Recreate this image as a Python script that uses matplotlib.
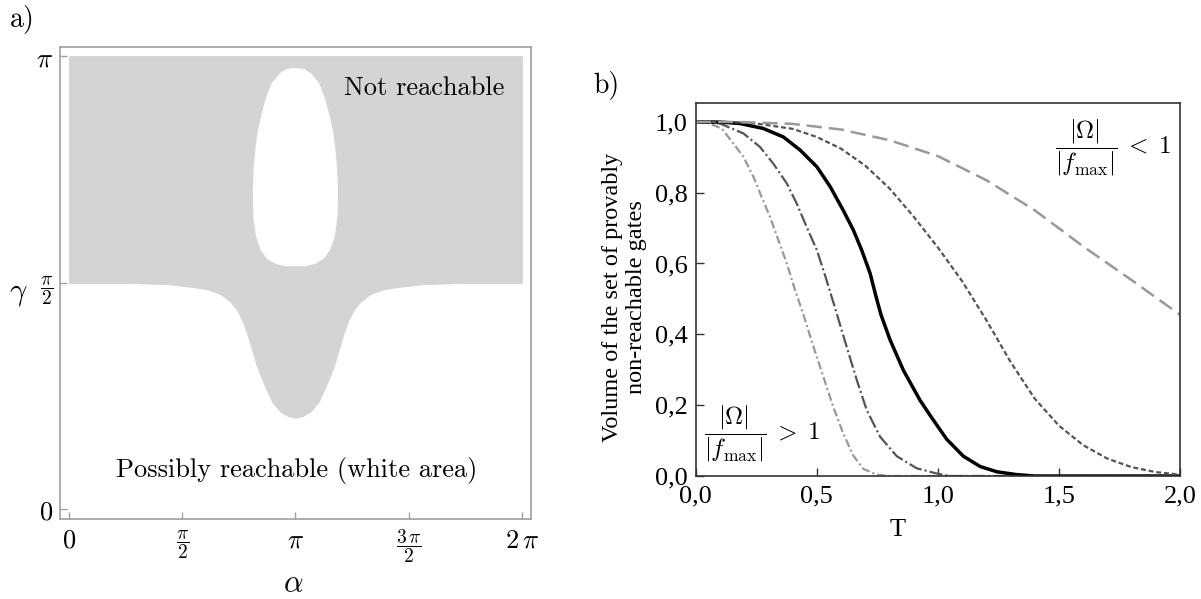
import numpy as np
import matplotlib
matplotlib.use('Agg')
import matplotlib.pyplot as plt

plt.rcParams['mathtext.fontset'] = 'cm'
plt.rcParams['lines.scale_dashes'] = False

# --- panel a: reachable set boundaries ---
# white blob inside the upper grey block: half width around alpha = pi vs gamma
blob_hw = [0.0, 0.116, 0.208, 0.324, 0.412, 0.472, 0.523, 0.551, 0.573, 0.587,
           0.579, 0.541, 0.476, 0.393, 0.278, 0.139, 0.0]
blob_gamma = [3.060, 3.053, 3.025, 2.956, 2.840, 2.724, 2.609, 2.493, 2.377, 2.216,
              2.030, 1.892, 1.800, 1.742, 1.707, 1.689, 1.689]
# grey dip below gamma = pi/2: half width around alpha = pi vs gamma
dip_hw = [2.3, 1.75, 1.457, 1.226, 1.041, 0.902, 0.810, 0.740, 0.671, 0.601,
          0.532, 0.440, 0.324, 0.208, 0.10, 0.0]
dip_gamma = [1.5708, 1.562, 1.545, 1.527, 1.494, 1.441, 1.383, 1.314, 1.222, 1.106,
             0.990, 0.875, 0.748, 0.678, 0.647, 0.637]

alpha_ticks = [0, np.pi / 2, np.pi, 3 * np.pi / 2, 2 * np.pi]
alpha_labels = [r'$0$', r'$\genfrac{}{}{0.8}{0}{\pi}{2}$', r'$\pi$',
                r'$\genfrac{}{}{0.8}{0}{3\,\pi}{2}$', r'$2\,\pi$']
gamma_ticks = [0, np.pi / 2, np.pi]
gamma_labels = [r'$0$', r'$\genfrac{}{}{0.8}{0}{\pi}{2}$', r'$\pi$']

# --- panel b: volume of non-reachable set vs T ---
T1 = [0, 0.05, 0.107, 0.155, 0.197, 0.238, 0.272, 0.307, 0.341, 0.376, 0.41, 0.444,
      0.486, 0.527, 0.568, 0.609, 0.651, 0.692, 0.747, 0.8, 2.0]
V1 = [1, 0.997, 0.981, 0.939, 0.901, 0.845, 0.788, 0.731, 0.666, 0.600, 0.525, 0.457,
      0.365, 0.280, 0.195, 0.120, 0.057, 0.020, 0.004, 0.0, 0.0]
T2 = [0, 0.1, 0.197, 0.265, 0.320, 0.376, 0.417, 0.458, 0.500, 0.537, 0.582, 0.623,
      0.665, 0.706, 0.761, 0.830, 0.912, 0.995, 1.05, 2.0]
V2 = [1, 0.995, 0.967, 0.929, 0.882, 0.826, 0.769, 0.703, 0.638, 0.56, 0.459, 0.365,
      0.271, 0.186, 0.111, 0.056, 0.022, 0.007, 0.0, 0.0]
T3 = [0, 0.1, 0.183, 0.279, 0.362, 0.431, 0.500, 0.555, 0.609, 0.651, 0.685, 0.720,
      0.745, 0.765, 0.802, 0.857, 0.926, 0.967, 1.036, 1.105, 1.174, 1.243, 1.325,
      1.4, 2.0]
V3 = [1, 0.999, 0.995, 0.981, 0.957, 0.920, 0.873, 0.817, 0.750, 0.694, 0.638, 0.572,
      0.505, 0.455, 0.385, 0.299, 0.214, 0.172, 0.104, 0.056, 0.027, 0.012, 0.004,
      0.0, 0.0]
T4 = [0, 0.15, 0.25, 0.4, 0.5, 0.6, 0.7, 0.8, 0.9, 1.0, 1.1, 1.2, 1.3, 1.4, 1.5, 1.6,
      1.7, 1.8, 1.9, 2.0]
V4 = [1, 0.999, 0.995, 0.980, 0.957, 0.924, 0.876, 0.812, 0.732, 0.645, 0.550, 0.440,
      0.322, 0.218, 0.142, 0.087, 0.049, 0.025, 0.011, 0.004]
T5 = [0, 0.2, 0.4, 0.6, 0.8, 1.0, 1.2, 1.4, 1.6, 1.8, 2.0]
V5 = [1, 0.999, 0.994, 0.978, 0.948, 0.903, 0.835, 0.750, 0.648, 0.553, 0.455]

T_ticks = [0, 0.5, 1.0, 1.5, 2.0]
T_labels = ['0,0', '0,5', '1,0', '1,5', '2,0']
V_ticks = [0, 0.2, 0.4, 0.6, 0.8, 1.0]
V_labels = ['0,0', '0,2', '0,4', '0,6', '0,8', '1,0']

grey = '#d4d4d4'
fig = plt.figure(figsize=(12.01, 5.99), dpi=100)

# %% panel a
ax1 = fig.add_axes([0.04996, 0.1336, 0.3922, 0.7875])
ax1.fill_between([0, 2 * np.pi], np.pi / 2, np.pi, color=grey, lw=0.6, edgecolor=grey)
hw = np.array(blob_hw)
g = np.array(blob_gamma)
ax1.fill(np.concatenate([np.pi + hw, (np.pi - hw)[::-1]]),
         np.concatenate([g, g[::-1]]), color='white', lw=0.5, edgecolor='white')
dhw = np.array(dip_hw)
dg = np.array(dip_gamma)
xd = np.concatenate([np.pi - dhw, (np.pi + dhw)[::-1]])
yd = np.concatenate([dg, dg[::-1]])
ax1.fill_between(xd, yd, np.pi / 2, color=grey, lw=0.6, edgecolor=grey)

ax1.set_xlim(-0.125, 2 * np.pi + 0.129)
ax1.set_ylim(-0.066, np.pi + 0.064)
ax1.set_xticks(alpha_ticks)
ax1.set_xticklabels(alpha_labels, fontsize=19)
ax1.set_yticks(gamma_ticks)
ax1.set_yticklabels(gamma_labels, fontsize=19)
ax1.tick_params(direction='in', length=5, width=1, color='#a0a0a0')
ax1.tick_params(axis='x', pad=6)
ax1.tick_params(axis='y', pad=5)
# fraction labels: display-style fractions at a smaller size
fig.canvas.draw()
for lab in ax1.get_xticklabels() + ax1.get_yticklabels():
    if 'frac' in lab.get_text():
        lab.set_fontsize(14)
for s in ax1.spines.values():
    s.set_color('#a0a0a0')
    s.set_linewidth(1.2)
ax1.set_xlabel(r'$\alpha$', fontsize=22, va='center')
ax1.xaxis.set_label_coords(0.495, -0.136)
ax1.set_ylabel(r'$\gamma$', fontsize=22, rotation=0, ha='center', va='center')
ax1.yaxis.set_label_coords(-0.089, 0.479)
ax1.text(4.93, 2.923, 'Not reachable', family='cmr10', fontsize=19,
         ha='center', va='center')
ax1.text(3.16, 0.267, 'Possibly reachable (white area)', family='cmr10', fontsize=19,
         ha='center', va='center')

# %% panel b
ax2 = fig.add_axes([0.5793, 0.2053, 0.4033, 0.6222])
ax2.plot(T1, V1, color='#999999', lw=1.6, dashes=(6, 2.2, 1.5, 2.2))
ax2.plot(T2, V2, color='#555555', lw=1.6, dashes=(9.5, 2.2, 1.5, 2.2))
ax2.plot(T3, V3, color='black', lw=2.5)
ax2.plot(T4, V4, color='#555555', lw=1.6, dashes=(3.6, 2.0))
ax2.plot(T5, V5, color='#999999', lw=1.8, dashes=(11, 5))

ax2.set_xlim(0, 2.0)
ax2.set_ylim(0, 1.052)
ax2.set_xticks(T_ticks)
ax2.set_xticklabels(T_labels, family='Liberation Serif', fontsize=19)
ax2.set_yticks(V_ticks)
ax2.set_yticklabels(V_labels, family='Liberation Serif', fontsize=19)
ax2.tick_params(direction='in', length=6, width=1, color='#333333')
ax2.tick_params(axis='x', pad=7)
ax2.tick_params(axis='y', pad=6)
for s in ax2.spines.values():
    s.set_color('#333333')
    s.set_linewidth(1.2)
ax2.set_xlabel('T', family='Liberation Serif', fontsize=19, va='center')
ax2.xaxis.set_label_coords(0.416, -0.145)
ax2.set_ylabel('Volume of the set of provably\nnon-reachable gates',
               family='Liberation Serif', fontsize=17.5, ha='center', va='center')
ax2.yaxis.set_label_coords(-0.147, 0.48)
ax2.text(1.723, 0.928, r'$\dfrac{|\Omega|}{|f_{\max}|}\;<\;1$', fontsize=18,
         ha='center', va='center')
ax2.text(0.273, 0.121, r'$\dfrac{|\Omega|}{|f_{\max}|}\;>\;1$', fontsize=18,
         ha='center', va='center')

fig.text(0.0183, 0.967, 'a)', family='cmr10', fontsize=20, ha='center', va='center')
fig.text(0.505, 0.858, 'b)', family='cmr10', fontsize=20, ha='center', va='center')

fig.savefig('out.png', dpi=100)
